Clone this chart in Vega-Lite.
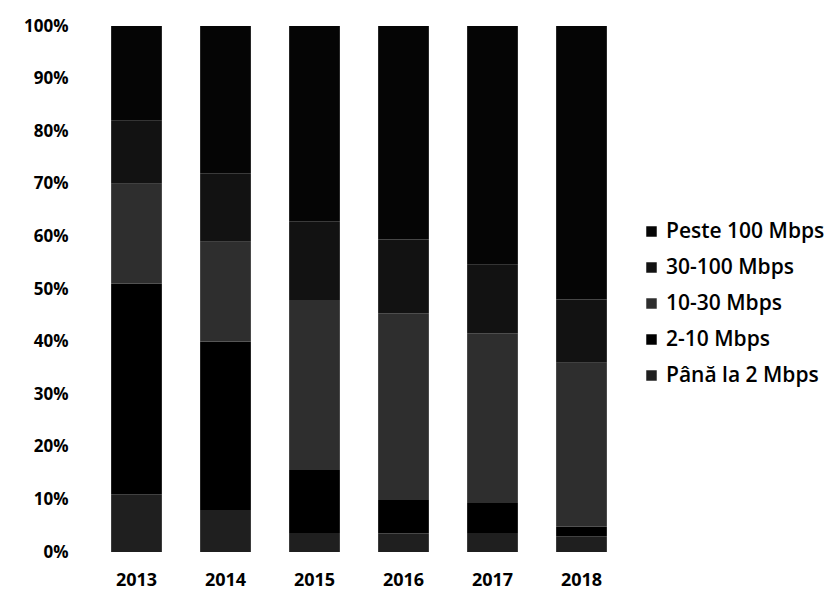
{
  "$schema": "https://vega.github.io/schema/vega-lite/v6.json",
  "autosize": {"type": "none"},
  "width": 534,
  "height": 526,
  "padding": {"left": 92, "top": 26, "right": 202, "bottom": 40},
  "background": "white",
  "view": {"stroke": null},
  "data": {
    "values": [
      {"year": "2013", "cat": "Până la 2 Mbps", "ord": 1, "value": 11},
      {"year": "2013", "cat": "2-10 Mbps", "ord": 2, "value": 40},
      {"year": "2013", "cat": "10-30 Mbps", "ord": 3, "value": 19},
      {"year": "2013", "cat": "30-100 Mbps", "ord": 4, "value": 12},
      {"year": "2013", "cat": "Peste 100 Mbps", "ord": 5, "value": 18},
      {"year": "2014", "cat": "Până la 2 Mbps", "ord": 1, "value": 8},
      {"year": "2014", "cat": "2-10 Mbps", "ord": 2, "value": 32},
      {"year": "2014", "cat": "10-30 Mbps", "ord": 3, "value": 19},
      {"year": "2014", "cat": "30-100 Mbps", "ord": 4, "value": 13},
      {"year": "2014", "cat": "Peste 100 Mbps", "ord": 5, "value": 28},
      {"year": "2015", "cat": "Până la 2 Mbps", "ord": 1, "value": 3.6},
      {"year": "2015", "cat": "2-10 Mbps", "ord": 2, "value": 12},
      {"year": "2015", "cat": "10-30 Mbps", "ord": 3, "value": 32.3},
      {"year": "2015", "cat": "30-100 Mbps", "ord": 4, "value": 15},
      {"year": "2015", "cat": "Peste 100 Mbps", "ord": 5, "value": 37.1},
      {"year": "2016", "cat": "Până la 2 Mbps", "ord": 1, "value": 3.5},
      {"year": "2016", "cat": "2-10 Mbps", "ord": 2, "value": 6.4},
      {"year": "2016", "cat": "10-30 Mbps", "ord": 3, "value": 35.5},
      {"year": "2016", "cat": "30-100 Mbps", "ord": 4, "value": 14},
      {"year": "2016", "cat": "Peste 100 Mbps", "ord": 5, "value": 40.6},
      {"year": "2017", "cat": "Până la 2 Mbps", "ord": 1, "value": 3.6},
      {"year": "2017", "cat": "2-10 Mbps", "ord": 2, "value": 5.7},
      {"year": "2017", "cat": "10-30 Mbps", "ord": 3, "value": 32.3},
      {"year": "2017", "cat": "30-100 Mbps", "ord": 4, "value": 13},
      {"year": "2017", "cat": "Peste 100 Mbps", "ord": 5, "value": 45.4},
      {"year": "2018", "cat": "Până la 2 Mbps", "ord": 1, "value": 3},
      {"year": "2018", "cat": "2-10 Mbps", "ord": 2, "value": 1.8},
      {"year": "2018", "cat": "10-30 Mbps", "ord": 3, "value": 31.2},
      {"year": "2018", "cat": "30-100 Mbps", "ord": 4, "value": 12},
      {"year": "2018", "cat": "Peste 100 Mbps", "ord": 5, "value": 52}
    ]
  },
  "mark": {"type": "bar", "strokeWidth": 0},
  "encoding": {
    "x": {
      "field": "year", "type": "nominal",
      "scale": {"paddingInner": 0.43, "paddingOuter": 0.215},
      "axis": {"title": null, "domain": false, "ticks": false, "labelAngle": 0, "labelPadding": 19, "labelFont": "Open Sans", "labelFontSize": 18, "labelFontWeight": "bold", "labelColor": "#000"}
    },
    "y": {
      "field": "value", "type": "quantitative", "stack": "normalize",
      "scale": {"domain": [0, 1]},
      "axis": {"title": null, "format": ".0%", "values": [0, 0.1, 0.2, 0.3, 0.4, 0.5, 0.6, 0.7, 0.8, 0.9, 1], "domain": false, "ticks": false, "grid": false, "labelPadding": 24, "labelFont": "Open Sans", "labelFontSize": 17, "labelFontWeight": "bold", "labelColor": "#000"}
    },
    "order": {"field": "ord", "type": "quantitative"},
    "color": {
      "field": "cat", "type": "nominal",
      "scale": {
        "domain": ["Peste 100 Mbps", "30-100 Mbps", "10-30 Mbps", "2-10 Mbps", "Până la 2 Mbps"],
        "range": ["#050505", "#121212", "#2e2e2e", "#000000", "#1f1f1f"]
      },
      "legend": {
        "title": null, "orient": "none", "legendX": 549, "legendY": 195,
        "symbolType": "square", "symbolSize": 110, "symbolStrokeWidth": 0,
        "labelFont": "Open Sans", "labelFontSize": 21, "labelFontWeight": 600, "labelColor": "#000",
        "rowPadding": 14, "labelOffset": 4, "labelLimit": 300
      }
    }
  }
}
